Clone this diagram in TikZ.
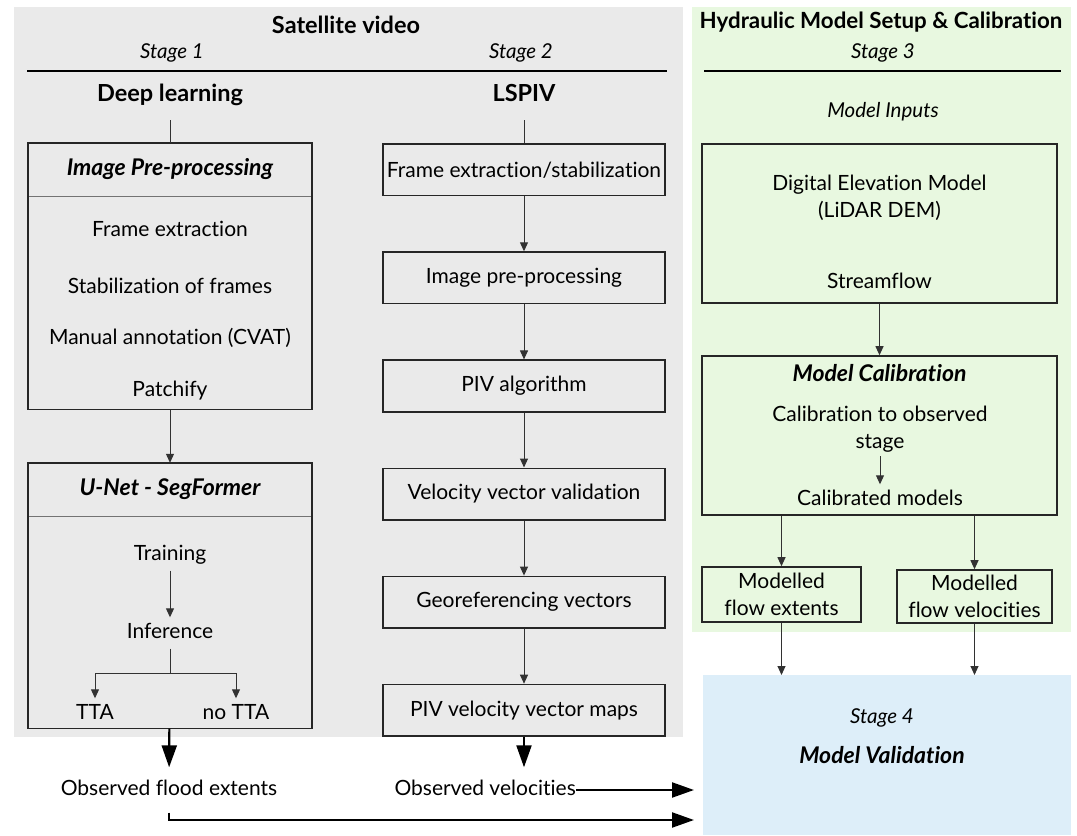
\documentclass[tikz,border=0pt]{standalone}
\usepackage{fontspec}
\setmainfont{Lato}[Ligatures=NoCommon]
\usepackage{tikz}
\usetikzlibrary{calc, positioning, arrows.meta}
\definecolor{satgray}{RGB}{234,234,234}
\definecolor{hydgreen}{RGB}{232,248,224}
\definecolor{valblue}{RGB}{221,238,249}
\definecolor{linegray}{RGB}{50,50,50}

\begin{document}
\begin{tikzpicture}[x=1pt, y=-1pt, font=\fontsize{21}{27}\selectfont]
    % Styles
    \tikzstyle{area} = [rectangle, anchor=north west, inner sep=0pt]
    \tikzstyle{heading} = [inner sep=0pt, text height=17pt, text depth=5pt, font=\fontsize{23.5}{27}\selectfont\bfseries]
    \tikzstyle{stage} = [inner sep=0pt, font=\fontsize{20.5}{24}\selectfont\itshape]
    \tikzstyle{box_title} = [inner sep=0pt, font=\fontsize{23}{27}\selectfont\bfseries\itshape]
    \tikzstyle{frame} = [draw=black!85, line width=1.6pt]
    \tikzstyle{divider} = [draw=black!55, line width=0.8pt]
    \tikzstyle{panel} = [rectangle, minimum width=284pt, inner sep=0pt]
    \tikzstyle{block} = [rectangle, frame, minimum width=282pt, minimum height=51.5pt, inner sep=0pt, text centered]
    \tikzstyle{model_box} = [rectangle, frame, inner sep=0pt, align=center]
    \tikzstyle{item} = [inner xsep=0pt, inner ysep=6pt, text height=15pt, text depth=4pt]
    \tikzstyle{multi} = [inner xsep=0pt, inner ysep=4pt, align=center]
    \tikzstyle{outcome} = [inner xsep=0pt, inner ysep=13pt, text height=15pt, text depth=4pt]
    \tikzstyle{line} = [draw, linegray, line width=1pt, -{Triangle[length=9pt,width=8pt]}]
    \tikzstyle{plain_line} = [draw, linegray, line width=1pt]
    \tikzstyle{out_line} = [draw, black, line width=2.2pt, -{Triangle[length=22pt,width=15pt]}]

    % Background areas
    \node[area, fill=satgray, minimum width=669pt, minimum height=730pt] (sat_area) at (14,7) {};
    \node[area, fill=hydgreen, minimum width=379pt, minimum height=625pt] (hyd_area) at (692,7) {};
    \node[area, fill=valblue, minimum width=368pt, minimum height=160pt] (validation) at (703,675) {};

    % Headings
    \node[heading] (sat_title) at (346,27) {Satellite video};
    \node[stage] (stage_one) at (172,53) {Stage 1};
    \node[stage] (stage_two) at (521,53) {Stage 2};
    \draw[line width=1.6pt] (27,71) -- (667,71);
    \node[heading] (deep) at (170,95) {Deep learning};
    \node[heading] (lspiv) at (524,95) {LSPIV};

    \node[heading, font=\fontsize{22.3}{27}\selectfont\bfseries] (hyd_title) at (881,22) {Hydraulic Model Setup \& Calibration};
    \node[stage] (stage_three) at (883,53) {Stage 3};
    \draw[line width=1.6pt] (704,71) -- (1061,71);
    \node[stage] (inputs) at (883,112) {Model Inputs};

    % Stage 1: deep learning
    \node[panel, box_title, minimum height=53pt] (pre_head) at (170,169.5) {Image Pre-processing};
    \node[panel, minimum height=213pt, below=0pt of pre_head] (pre_body) {};
    \draw[divider] (pre_head.south west) -- (pre_head.south east);
    \draw[frame] (pre_head.north west) rectangle (pre_body.south east);
    \node[item] (frame_ext) at (170,231) {Frame extraction};
    \node[item] (stab) at (170,288) {Stabilization of frames};
    \node[item] (annot) at (170,339) {Manual annotation (CVAT)};
    \node[item] (patch) at (170,391) {Patchify};

    \node[panel, box_title, minimum height=53pt] (unet_head) at (170,489.5) {U-Net - SegFormer};
    \node[panel, minimum height=212pt, below=0pt of unet_head] (unet_body) {};
    \draw[divider] (unet_head.south west) -- (unet_head.south east);
    \draw[frame] (unet_head.north west) rectangle (unet_body.south east);
    \node[item] (training) at (170,555) {Training};
    \node[item] (inference) at (170,633) {Inference};
    \node[item] (tta) at (95,714) {TTA};
    \node[item] (no_tta) at (236,714) {no TTA};
    \coordinate (split) at (170,673);

    % Stage 2: LSPIV
    \node[block] (frames) at (524,169.75) {Frame extraction/stabilization};
    \node[block, below=55pt of frames] (img_pre) {Image pre-processing};
    \node[block, below=55pt of img_pre] (piv) {PIV algorithm};
    \node[block, below=55pt of piv] (valid) {Velocity vector validation};
    \node[block, below=55pt of valid] (georef) {Georeferencing vectors};
    \node[block, below=55pt of georef] (maps) {PIV velocity vector maps};

    % Stage 3: hydraulic model
    \node[model_box, minimum width=355pt, minimum height=159pt] (dem) at (879.5,223.5) {};
    \node[multi] (dem_text) at (879.5,198) {Digital Elevation Model\\(LiDAR DEM)};
    \node[item] (streamflow) at (879.5,283) {Streamflow};
    \node[model_box, minimum width=355pt, minimum height=159pt] (calib) at (879.5,435.5) {};
    \node[box_title] (calib_title) at (879.5,373) {Model Calibration};
    \node[multi] (cal_obs) at (880,429) {Calibration to observed\\stage};
    \node[item] (cal_models) at (880,500) {Calibrated models};
    \node[model_box, minimum width=159pt, minimum height=55pt] (mod_ext) at (781.5,594.5) {Modelled\\flow extents};
    \node[model_box, minimum width=155pt, minimum height=53pt] (mod_vel) at (974.5,596.5) {Modelled\\flow velocities};

    % Stage 4: validation
    \node[stage] (stage_four) at (882,718) {Stage 4};
    \node[box_title] (val_title) at (882,755) {Model Validation};

    % Observations
    \node[outcome] (obs_flood) at (169,790) {Observed flood extents};
    \node[outcome, anchor=east] (obs_vel) at (576,790) {Observed velocities};
    \coordinate (vel_end) at (694,790);
    \coordinate (flood_end) at (694,820);

    % Connectors
    \path[plain_line, shorten <=14pt] (deep) -- (pre_head);
    \path[plain_line, shorten <=14pt] (lspiv) -- (frames);
    \path[line] (pre_body) -- (unet_head);
    \path[line] (training) -- (inference);
    \path[plain_line] (inference) -- (split);
    \path[line] (split) -| (tta);
    \path[line] (split) -| (no_tta);

    \path[line] (frames) -- (img_pre);
    \path[line] (img_pre) -- (piv);
    \path[line] (piv) -- (valid);
    \path[line] (valid) -- (georef);
    \path[line] (georef) -- (maps);

    \path[line] (dem) -- (calib);
    \path[line] (cal_obs) -- (cal_models);
    \path[line] (calib.south -| mod_ext) -- (mod_ext);
    \path[line] (calib.south -| mod_vel) -- (mod_vel);
    \path[line] (mod_ext) -- (mod_ext |- validation.north);
    \path[line] (mod_vel) -- (mod_vel |- validation.north);

    \path[out_line] (unet_body) -- (obs_flood);
    \path[out_line] (maps) -- (maps |- obs_vel.north);
    \path[out_line] (obs_vel.east) -- (vel_end);
    \path[out_line] (obs_flood.south) |- (flood_end);

    \useasboundingbox (0,0) rectangle (1077,835);
\end{tikzpicture}
\end{document}
